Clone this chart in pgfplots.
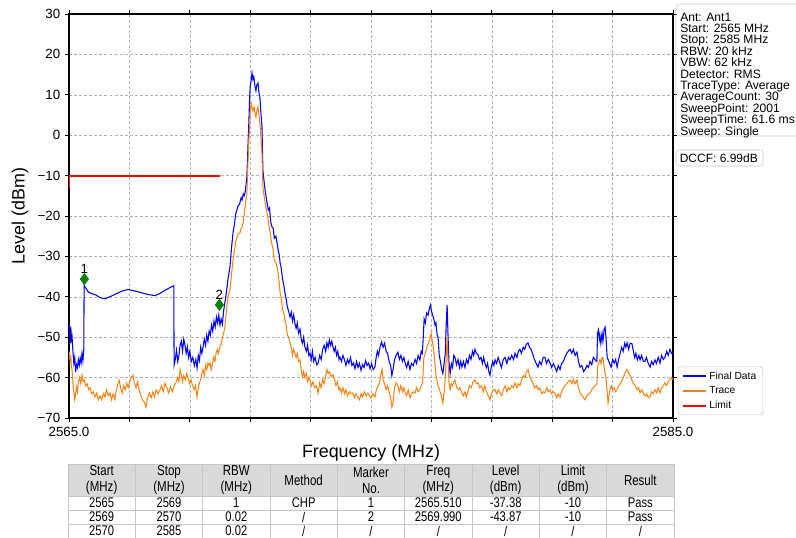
\documentclass[border=0pt]{standalone}
\usepackage{fontspec}
\setmainfont{Liberation Sans}
\newfontfamily\tablefont[FakeStretch=0.8]{Liberation Sans}
\usepackage{pgfplots}
\pgfplotsset{compat=1.18}
\definecolor{traceorange}{HTML}{FF7F0E}
\definecolor{mkgreen}{HTML}{008000}

\begin{document}
\begin{tikzpicture}
\useasboundingbox (0,0) rectangle (597pt,-403.5pt);
\begin{axis}[
  at={(51.75pt,-313.5pt)}, anchor=south west,
  scale only axis, width=453pt, height=303pt,
  xmin=2565, xmax=2585, ymin=-70, ymax=30,
  xtick={2565,2567,...,2585},
  xticklabels={2565.0,,,,,,,,,,2585.0},
  ytick={-70,-60,...,30},
  yticklabels={−70,−60,−50,−40,−30,−20,−10,0,10,20,30},
  grid=major,
  grid style={gray!60, line width=0.4pt, dash pattern=on 2.2pt off 1.6pt},
  tick align=outside, major tick length=3pt,
  tick style={black, line width=0.6pt},
  axis line style={black, line width=0.9pt},
  tick label style={font=\fontsize{10}{12}\selectfont},
  label style={font=\fontsize{13.4}{16}\selectfont},
  xlabel={Frequency (MHz)}, ylabel={Level (dBm)},
  xlabel style={at={(axis description cs:0.5,-0.087)}, anchor=center},
  ylabel style={at={(axis description cs:-0.081,0.5)}, anchor=center},
  legend style={at={(1.008,0.007)}, anchor=south west, draw=gray!45,
    rounded corners=2pt, font=\fontsize{7.7}{9}\selectfont,
    row sep=0pt, inner xsep=3pt, inner ysep=1.5pt, cells={anchor=west}},
  legend image code/.code={\draw[#1] (0pt,0pt) -- (17pt,0pt);},
  legend image post style={line width=1.5pt},
]
% Final Data
\addplot[blue, line width=0.8pt] coordinates {
(2565.00,-48.2) (2565.02,-46.8) (2565.04,-51.5) (2565.06,-47.5) (2565.08,-50.5)
(2565.10,-49.8) (2565.13,-53.5) (2565.16,-56.4) (2565.19,-55.0) (2565.22,-58.6)
(2565.25,-56.8) (2565.28,-57.5) (2565.31,-55.6) (2565.34,-56.9) (2565.37,-55.2)
(2565.40,-56.4) (2565.43,-54.0) (2565.46,-55.8) (2565.49,-53.0) (2565.50,-37.2)
(2565.55,-37.8) (2565.65,-38.9) (2565.76,-39.2) (2565.90,-39.6) (2566.03,-40.2)
(2566.19,-40.5) (2566.35,-40.0) (2566.55,-39.3) (2566.75,-38.6) (2566.95,-38.2)
(2567.15,-38.5) (2567.35,-38.9) (2567.55,-39.3) (2567.75,-39.6) (2567.85,-39.7)
(2568.00,-39.2) (2568.20,-38.3) (2568.40,-37.5) (2568.47,-37.3) (2568.48,-56.9)
(2568.52,-55.5) (2568.56,-53.2) (2568.60,-56.0) (2568.64,-54.5) (2568.68,-52.0)
(2568.72,-51.0) (2568.76,-53.5) (2568.80,-50.5) (2568.84,-52.0) (2568.88,-54.0)
(2568.92,-52.4) (2568.96,-55.0) (2569.00,-53.5) (2569.05,-56.0) (2569.10,-55.0)
(2569.15,-57.0) (2569.20,-55.5) (2569.24,-57.6) (2569.28,-54.5) (2569.32,-55.8)
(2569.36,-52.5) (2569.40,-54.0) (2569.44,-52.4) (2569.48,-50.5) (2569.52,-52.0)
(2569.56,-49.5) (2569.60,-51.0) (2569.64,-48.5) (2569.68,-49.5) (2569.72,-47.0)
(2569.76,-48.5) (2569.80,-46.0) (2569.84,-47.5) (2569.88,-45.0) (2569.92,-46.5)
(2569.96,-44.5) (2570.00,-47.0) (2570.04,-45.5) (2570.08,-46.8) (2570.12,-43.5)
(2570.17,-41.0) (2570.22,-38.5) (2570.26,-35.8) (2570.30,-34.0) (2570.33,-32.6)
(2570.38,-28.0) (2570.43,-24.2) (2570.48,-22.0) (2570.52,-19.5) (2570.56,-18.5)
(2570.60,-17.5) (2570.65,-17.0) (2570.70,-15.5) (2570.73,-16.0) (2570.77,-14.5)
(2570.80,-15.0) (2570.83,-14.3) (2570.86,-12.5) (2570.89,-10.3) (2570.92,-4.0)
(2570.95,2.0) (2570.98,9.0) (2571.00,12.0) (2571.03,13.5) (2571.06,15.4)
(2571.09,13.8) (2571.12,14.5) (2571.16,12.0) (2571.19,11.0) (2571.22,12.5)
(2571.26,12.9) (2571.29,10.5) (2571.32,9.5) (2571.35,6.0) (2571.39,2.0)
(2571.42,-8.6) (2571.46,-11.5) (2571.50,-14.0) (2571.56,-16.8) (2571.60,-18.5)
(2571.64,-18.0) (2571.68,-21.5) (2571.72,-22.7) (2571.76,-23.0) (2571.80,-25.5)
(2571.85,-25.0) (2571.89,-26.7) (2571.93,-28.5) (2571.96,-29.5) (2571.99,-31.6)
(2572.03,-33.0) (2572.07,-35.5) (2572.11,-37.0) (2572.15,-39.0) (2572.19,-40.5)
(2572.23,-42.5) (2572.27,-43.5) (2572.32,-45.0) (2572.36,-43.8) (2572.40,-46.0)
(2572.44,-44.5) (2572.48,-46.5) (2572.52,-47.8) (2572.56,-46.5) (2572.60,-49.0)
(2572.65,-48.0) (2572.69,-50.5) (2572.73,-51.5) (2572.77,-50.0) (2572.81,-52.4)
(2572.86,-53.5) (2572.90,-52.0) (2572.94,-54.5) (2572.98,-54.0) (2573.02,-55.5)
(2573.06,-53.5) (2573.10,-56.0) (2573.15,-55.0) (2573.20,-56.8) (2573.25,-56.4)
(2573.30,-54.5) (2573.35,-55.5) (2573.40,-53.0) (2573.45,-52.0) (2573.50,-53.5)
(2573.54,-51.4) (2573.58,-52.5) (2573.62,-50.7) (2573.66,-52.0) (2573.70,-51.0)
(2573.74,-52.4) (2573.78,-53.5) (2573.82,-52.5) (2573.86,-54.5) (2573.90,-53.5)
(2573.94,-55.5) (2573.97,-54.9) (2574.02,-56.0) (2574.07,-54.5) (2574.12,-55.5)
(2574.17,-57.0) (2574.22,-55.5) (2574.27,-56.5) (2574.32,-55.0) (2574.37,-57.0)
(2574.42,-56.4) (2574.47,-57.8) (2574.52,-56.0) (2574.57,-57.5) (2574.62,-56.5)
(2574.67,-58.2) (2574.72,-56.8) (2574.77,-57.5) (2574.82,-55.8) (2574.87,-57.0)
(2574.92,-56.4) (2574.97,-57.8) (2575.02,-56.5) (2575.07,-58.0) (2575.13,-57.4)
(2575.17,-55.0) (2575.21,-53.5) (2575.25,-54.5) (2575.30,-52.4) (2575.35,-51.2)
(2575.40,-52.5) (2575.45,-51.5) (2575.50,-53.5) (2575.55,-54.0) (2575.60,-56.0)
(2575.65,-57.0) (2575.69,-59.5) (2575.73,-58.0) (2575.78,-55.5) (2575.83,-54.5)
(2575.89,-53.7) (2575.94,-55.5) (2575.99,-54.5) (2576.04,-56.0) (2576.09,-55.0)
(2576.13,-56.4) (2576.18,-57.5) (2576.23,-56.0) (2576.29,-58.0) (2576.34,-56.5)
(2576.40,-57.0) (2576.46,-55.5) (2576.51,-56.5) (2576.56,-54.5) (2576.62,-55.6)
(2576.66,-53.5) (2576.70,-54.0) (2576.73,-50.0) (2576.76,-45.5) (2576.80,-46.5)
(2576.84,-44.0) (2576.89,-44.5) (2576.93,-43.0) (2576.97,-42.0) (2577.00,-43.5)
(2577.04,-44.5) (2577.08,-45.5) (2577.12,-47.0) (2577.15,-46.5) (2577.19,-49.5)
(2577.22,-50.0) (2577.26,-54.5) (2577.30,-56.0) (2577.34,-58.0) (2577.38,-59.0)
(2577.42,-56.5) (2577.46,-54.0) (2577.49,-47.0) (2577.52,-42.0) (2577.55,-49.5)
(2577.58,-56.0) (2577.62,-59.0) (2577.66,-56.5) (2577.70,-57.5) (2577.74,-54.5)
(2577.78,-55.0) (2577.83,-56.8) (2577.88,-55.5) (2577.93,-57.5) (2577.97,-56.0)
(2578.01,-57.4) (2578.06,-56.0) (2578.11,-57.5) (2578.16,-55.5) (2578.21,-56.5)
(2578.26,-54.5) (2578.31,-55.5) (2578.36,-53.5) (2578.40,-54.5) (2578.44,-53.0)
(2578.49,-54.0) (2578.54,-54.3) (2578.59,-55.5) (2578.64,-55.0) (2578.69,-56.5)
(2578.73,-55.0) (2578.77,-56.4) (2578.82,-57.5) (2578.86,-56.5) (2578.90,-58.5)
(2578.94,-59.4) (2578.98,-57.5) (2579.03,-56.0) (2579.07,-57.0) (2579.11,-55.6)
(2579.16,-56.5) (2579.21,-55.0) (2579.27,-56.4) (2579.32,-57.5) (2579.38,-55.5)
(2579.44,-55.0) (2579.50,-56.5) (2579.55,-55.0) (2579.60,-55.6) (2579.66,-54.5)
(2579.72,-55.5) (2579.77,-54.0) (2579.83,-55.0) (2579.88,-53.5) (2579.93,-53.0)
(2579.98,-54.0) (2580.04,-52.5) (2580.09,-53.0) (2580.14,-51.8) (2580.20,-51.4)
(2580.25,-52.5) (2580.30,-53.0) (2580.36,-54.3) (2580.41,-55.5) (2580.47,-56.5)
(2580.53,-57.4) (2580.58,-56.0) (2580.64,-56.8) (2580.70,-55.0) (2580.76,-55.0)
(2580.81,-56.5) (2580.87,-55.5) (2580.93,-56.4) (2580.98,-57.5) (2581.04,-56.5)
(2581.09,-57.4) (2581.15,-58.5) (2581.20,-57.0) (2581.26,-58.0) (2581.31,-56.5)
(2581.37,-56.0) (2581.42,-55.0) (2581.48,-54.0) (2581.53,-53.5) (2581.59,-53.0)
(2581.65,-54.0) (2581.70,-53.0) (2581.76,-54.5) (2581.82,-53.7) (2581.87,-56.0)
(2581.92,-57.4) (2581.98,-57.0) (2582.04,-58.5) (2582.09,-58.0) (2582.15,-57.0)
(2582.20,-57.5) (2582.25,-56.0) (2582.31,-56.8) (2582.36,-55.0) (2582.42,-55.6)
(2582.48,-56.0) (2582.50,-49.0) (2582.53,-48.2) (2582.56,-50.5) (2582.58,-49.5)
(2582.61,-51.5) (2582.65,-49.0) (2582.68,-51.0) (2582.72,-48.0) (2582.75,-47.5)
(2582.78,-50.0) (2582.82,-55.0) (2582.85,-55.5) (2582.90,-56.5) (2582.95,-57.4)
(2583.00,-55.5) (2583.05,-56.4) (2583.10,-55.5) (2583.15,-57.4) (2583.20,-55.5)
(2583.25,-54.0) (2583.30,-52.5) (2583.35,-53.5) (2583.40,-51.5) (2583.44,-52.5)
(2583.48,-51.4) (2583.53,-53.0) (2583.58,-51.5) (2583.64,-51.6) (2583.69,-53.5)
(2583.73,-55.0) (2583.77,-54.0) (2583.82,-55.6) (2583.87,-54.5) (2583.91,-55.6)
(2583.96,-54.5) (2584.02,-56.0) (2584.07,-56.0) (2584.12,-55.0) (2584.18,-56.5)
(2584.24,-57.4) (2584.29,-56.0) (2584.34,-56.8) (2584.40,-55.6) (2584.45,-56.5)
(2584.51,-55.0) (2584.57,-56.4) (2584.62,-54.5) (2584.68,-55.5) (2584.73,-55.0)
(2584.79,-53.5) (2584.84,-54.5) (2584.90,-53.0) (2584.95,-54.0) (2585.00,-53.7)
};
\addlegendentry{Final Data}
% Trace
\addplot[traceorange, line width=0.75pt] coordinates {
(2565.00,-55.5) (2565.02,-53.5) (2565.04,-56.5) (2565.06,-54.5) (2565.08,-57.4)
(2565.10,-58.0) (2565.13,-61.3) (2565.16,-63.5) (2565.19,-65.5) (2565.22,-64.0)
(2565.25,-62.3) (2565.28,-63.5) (2565.31,-61.0) (2565.35,-60.0) (2565.39,-61.5)
(2565.43,-59.4) (2565.47,-61.0) (2565.51,-60.6) (2565.55,-62.0) (2565.60,-61.5)
(2565.65,-63.0) (2565.70,-62.5) (2565.75,-64.0) (2565.80,-63.5) (2565.86,-64.8)
(2565.92,-63.8) (2565.97,-65.5) (2566.03,-64.5) (2566.08,-65.5) (2566.14,-64.0)
(2566.19,-64.8) (2566.24,-63.0) (2566.30,-64.5) (2566.36,-63.8) (2566.41,-65.5)
(2566.46,-64.0) (2566.52,-65.5) (2566.57,-63.0) (2566.62,-61.5) (2566.66,-60.6)
(2566.71,-62.5) (2566.76,-63.8) (2566.81,-62.0) (2566.86,-63.0) (2566.91,-61.4)
(2566.96,-62.5) (2567.01,-61.0) (2567.06,-60.0) (2567.12,-59.4) (2567.17,-61.5)
(2567.22,-62.5) (2567.27,-61.0) (2567.32,-63.0) (2567.38,-64.5) (2567.43,-65.5)
(2567.49,-66.0) (2567.55,-67.3) (2567.60,-65.0) (2567.66,-63.8) (2567.72,-65.0)
(2567.78,-63.5) (2567.83,-64.8) (2567.89,-63.0) (2567.95,-64.0) (2568.01,-63.0)
(2568.07,-62.0) (2568.12,-63.5) (2568.18,-61.4) (2568.24,-62.5) (2568.30,-63.8)
(2568.36,-62.3) (2568.42,-63.5) (2568.48,-62.0) (2568.54,-61.3) (2568.60,-60.0)
(2568.64,-61.0) (2568.68,-58.0) (2568.72,-59.5) (2568.76,-61.0) (2568.80,-59.5)
(2568.85,-60.6) (2568.90,-59.0) (2568.94,-60.0) (2568.99,-61.5) (2569.04,-60.5)
(2569.09,-62.0) (2569.14,-63.0) (2569.19,-62.0) (2569.24,-64.8) (2569.28,-62.5)
(2569.32,-61.3) (2569.36,-60.5) (2569.40,-59.0) (2569.44,-58.0) (2569.48,-59.5)
(2569.52,-57.0) (2569.56,-58.0) (2569.60,-56.4) (2569.64,-57.0) (2569.67,-56.4)
(2569.71,-58.0) (2569.75,-56.5) (2569.79,-55.0) (2569.83,-56.0) (2569.87,-54.0)
(2569.91,-53.0) (2569.95,-54.0) (2570.00,-52.4) (2570.04,-51.5) (2570.08,-50.2)
(2570.12,-49.0) (2570.16,-47.5) (2570.20,-44.5) (2570.24,-41.5) (2570.28,-39.5)
(2570.33,-38.3) (2570.38,-34.5) (2570.43,-31.0) (2570.48,-28.5) (2570.52,-26.5)
(2570.56,-25.2) (2570.60,-24.5) (2570.66,-24.2) (2570.70,-23.0) (2570.73,-22.7)
(2570.77,-21.5) (2570.80,-19.5) (2570.83,-17.8) (2570.86,-16.0) (2570.89,-14.3)
(2570.92,-8.0) (2570.96,-0.5) (2571.00,5.0) (2571.03,8.0) (2571.06,7.0)
(2571.09,6.0) (2571.13,7.0) (2571.16,5.5) (2571.19,4.5) (2571.22,6.0)
(2571.26,7.0) (2571.29,5.0) (2571.32,3.0) (2571.36,-1.0) (2571.39,-4.4)
(2571.42,-12.8) (2571.46,-15.0) (2571.50,-17.0) (2571.54,-18.5) (2571.58,-20.0)
(2571.62,-22.5) (2571.66,-24.0) (2571.71,-26.7) (2571.75,-28.0) (2571.80,-31.0)
(2571.85,-31.5) (2571.89,-32.6) (2571.93,-34.5) (2571.96,-36.5) (2571.99,-39.0)
(2572.03,-40.5) (2572.07,-43.0) (2572.11,-44.0) (2572.15,-45.7) (2572.19,-47.0)
(2572.23,-49.5) (2572.27,-50.0) (2572.32,-51.4) (2572.36,-52.5) (2572.40,-54.5)
(2572.44,-53.0) (2572.48,-54.0) (2572.52,-55.0) (2572.56,-54.0) (2572.60,-56.0)
(2572.65,-55.6) (2572.69,-58.0) (2572.73,-59.8) (2572.77,-58.5) (2572.81,-60.0)
(2572.86,-59.0) (2572.90,-61.0) (2572.94,-60.0) (2572.98,-60.6) (2573.03,-62.0)
(2573.08,-61.0) (2573.13,-62.5) (2573.19,-62.0) (2573.25,-63.8) (2573.30,-61.3)
(2573.35,-62.5) (2573.40,-60.5) (2573.45,-61.5) (2573.50,-59.5) (2573.54,-58.0)
(2573.58,-59.0) (2573.63,-58.5) (2573.68,-59.8) (2573.74,-59.3) (2573.79,-60.5)
(2573.84,-62.0) (2573.89,-61.0) (2573.94,-63.0) (2573.97,-62.5) (2574.02,-63.8)
(2574.07,-62.5) (2574.12,-64.0) (2574.17,-63.0) (2574.22,-64.5) (2574.28,-63.5)
(2574.34,-64.0) (2574.40,-63.8) (2574.45,-65.0) (2574.50,-64.0) (2574.56,-64.8)
(2574.62,-65.5) (2574.67,-64.0) (2574.72,-64.8) (2574.78,-63.5) (2574.84,-64.5)
(2574.90,-63.8) (2574.95,-64.5) (2575.00,-65.0) (2575.06,-64.0) (2575.13,-64.8)
(2575.18,-63.0) (2575.23,-62.0) (2575.28,-61.3) (2575.33,-59.0) (2575.37,-58.0)
(2575.40,-60.6) (2575.45,-61.5) (2575.50,-63.0) (2575.55,-62.0) (2575.60,-63.5)
(2575.65,-65.0) (2575.69,-67.3) (2575.73,-66.3) (2575.78,-62.5) (2575.83,-61.3)
(2575.89,-62.0) (2575.94,-63.5) (2575.99,-62.0) (2576.04,-63.5) (2576.09,-62.5)
(2576.13,-63.8) (2576.18,-64.5) (2576.23,-63.0) (2576.29,-65.0) (2576.34,-64.0)
(2576.40,-63.5) (2576.46,-63.8) (2576.51,-62.5) (2576.56,-63.5) (2576.62,-63.0)
(2576.66,-62.0) (2576.71,-61.3) (2576.75,-55.0) (2576.80,-54.0) (2576.85,-52.4)
(2576.90,-51.5) (2576.95,-50.5) (2576.99,-49.0) (2577.03,-51.0) (2577.06,-52.4)
(2577.10,-55.0) (2577.15,-59.3) (2577.20,-61.5) (2577.25,-62.5) (2577.30,-63.8)
(2577.34,-65.0) (2577.38,-66.3) (2577.42,-63.5) (2577.46,-60.0) (2577.49,-55.0)
(2577.52,-50.0) (2577.55,-56.0) (2577.58,-61.0) (2577.62,-63.0) (2577.66,-61.5)
(2577.70,-62.0) (2577.74,-61.0) (2577.78,-60.6) (2577.84,-62.5) (2577.90,-63.0)
(2577.95,-62.5) (2578.01,-63.8) (2578.06,-64.5) (2578.11,-63.5) (2578.16,-64.8)
(2578.21,-63.5) (2578.26,-62.0) (2578.32,-62.5) (2578.38,-61.0) (2578.44,-60.6)
(2578.49,-61.5) (2578.54,-61.3) (2578.60,-62.5) (2578.66,-62.0) (2578.72,-63.5)
(2578.77,-62.0) (2578.82,-63.5) (2578.88,-64.5) (2578.94,-65.5) (2578.99,-64.0)
(2579.05,-63.0) (2579.11,-63.0) (2579.16,-64.0) (2579.22,-63.0) (2579.27,-63.8)
(2579.33,-64.5) (2579.38,-63.0) (2579.44,-62.0) (2579.50,-63.5) (2579.55,-62.5)
(2579.60,-63.0) (2579.66,-62.0) (2579.72,-62.5) (2579.77,-61.3) (2579.83,-62.5)
(2579.88,-61.5) (2579.93,-62.0) (2579.99,-60.5) (2580.05,-59.5) (2580.10,-60.0)
(2580.15,-58.5) (2580.20,-58.0) (2580.25,-59.5) (2580.30,-60.5) (2580.36,-61.3)
(2580.42,-62.5) (2580.48,-62.0) (2580.53,-63.0) (2580.59,-62.5) (2580.65,-64.0)
(2580.70,-63.5) (2580.76,-63.8) (2580.82,-62.5) (2580.87,-63.5) (2580.93,-63.0)
(2580.98,-64.0) (2581.04,-63.5) (2581.09,-63.8) (2581.15,-65.0) (2581.20,-64.0)
(2581.26,-64.8) (2581.31,-63.5) (2581.37,-62.5) (2581.42,-62.0) (2581.48,-61.5)
(2581.53,-61.0) (2581.59,-60.6) (2581.65,-61.5) (2581.70,-60.5) (2581.76,-61.5)
(2581.82,-60.6) (2581.87,-62.5) (2581.92,-63.8) (2581.98,-64.5) (2582.04,-65.0)
(2582.09,-65.5) (2582.15,-64.5) (2582.20,-64.0) (2582.25,-63.8) (2582.31,-63.0)
(2582.36,-62.5) (2582.42,-62.0) (2582.48,-61.5) (2582.51,-57.0) (2582.54,-56.4)
(2582.58,-55.5) (2582.62,-56.5) (2582.65,-55.0) (2582.68,-55.0) (2582.72,-57.5)
(2582.75,-59.0) (2582.78,-60.0) (2582.82,-63.5) (2582.85,-66.3) (2582.90,-63.5)
(2582.95,-62.0) (2583.00,-63.0) (2583.05,-62.5) (2583.10,-63.5) (2583.15,-63.0)
(2583.20,-62.0) (2583.26,-61.5) (2583.32,-60.6) (2583.38,-59.5) (2583.43,-58.5)
(2583.48,-58.0) (2583.53,-59.0) (2583.58,-59.5) (2583.64,-60.6) (2583.70,-61.5)
(2583.75,-62.0) (2583.81,-63.0) (2583.86,-62.5) (2583.91,-63.8) (2583.97,-63.0)
(2584.02,-64.0) (2584.07,-64.5) (2584.13,-64.0) (2584.18,-65.0) (2584.24,-64.8)
(2584.29,-63.5) (2584.35,-64.0) (2584.40,-63.0) (2584.46,-63.8) (2584.51,-62.5)
(2584.57,-63.8) (2584.62,-62.5) (2584.68,-62.0) (2584.73,-61.3) (2584.79,-62.0)
(2584.84,-61.0) (2584.90,-60.5) (2584.95,-60.0) (2585.00,-60.5)
};
\addlegendentry{Trace}
% Limit
\addplot[red, line width=1.5pt] coordinates {(2565,-13) (2565,-10) (2570,-10)};
\addlegendentry{Limit}
% markers
\addplot[forget plot, only marks, mark=diamond*, mark size=4.2pt, mkgreen,
  point meta=explicit symbolic, nodes near coords,
  nodes near coords style={black, font=\fontsize{10}{12}\selectfont, anchor=south, yshift=0.5pt}]
  coordinates {(2565.51,-35.6) [1] (2569.98,-42.0) [2]};
\end{axis}

\begin{scope}[x=0.75pt, y=-0.75pt]
% info box
\draw[gray!45, rounded corners=3pt] (676,4) rectangle (805,136);
\node[anchor=north west, inner sep=0pt, align=left,
  font=\fontsize{9.1}{8.55}\selectfont] at (680,12.5)
  {Ant: Ant1\\Start: 2565 MHz\\Stop: 2585 MHz\\RBW: 20 kHz\\VBW: 62 kHz\\Detector: RMS\\TraceType: Average\\AverageCount: 30\\SweepPoint: 2001\\SweepTime: 61.6 ms\\Sweep: Single};
\draw[gray!45, rounded corners=2pt] (676,150) rectangle (763,166);
\node[anchor=west, inner sep=0pt, font=\fontsize{9}{10}\selectfont] at (679.5,158) {DCCF: 6.99dB};
% table
\fill[gray!30] (68,464) rectangle (674,496);
\foreach \i in {0,...,9} \draw[gray!45, line width=0.5pt] ({68+\i*67.333},464) -- ({68+\i*67.333},538);
\foreach \yy in {464,496,510,524,538} \draw[gray!45, line width=0.5pt] (68,\yy) -- (674,\yy);
\foreach \t [count=\i] in {{Start\\(MHz)},{Stop\\(MHz)},{RBW\\(MHz)},{Method},{Marker\\No.},{Freq\\(MHz)},{Level\\(dBm)},{Limit\\(dBm)},{Result}}
  \node[align=center, inner sep=0pt, font=\tablefont\fontsize{10.8}{12.2}\selectfont] at ({68+(\i-0.5)*67.333},480) {\t};
\foreach \t [count=\i] in {2565,2569,1,CHP,1,2565.510,-37.38,-10,Pass}
  \node[inner sep=0pt, font=\tablefont\fontsize{10.5}{11}\selectfont] at ({68+(\i-0.5)*67.333},503) {\t};
\foreach \t [count=\i] in {2569,2570,0.02,/,2,2569.990,-43.87,-10,Pass}
  \node[inner sep=0pt, font=\tablefont\fontsize{10.5}{11}\selectfont] at ({68+(\i-0.5)*67.333},517) {\t};
\foreach \t [count=\i] in {2570,2585,0.02,/,/,/,/,/,/}
  \node[inner sep=0pt, font=\tablefont\fontsize{10.5}{11}\selectfont] at ({68+(\i-0.5)*67.333},531) {\t};
\end{scope}
\end{tikzpicture}
\end{document}
